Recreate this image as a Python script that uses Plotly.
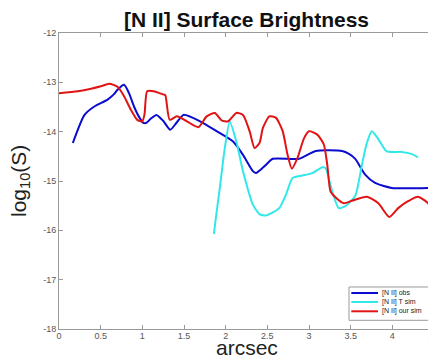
import plotly.graph_objects as go

# ---- data ----
obs_x = [0.166, 0.306, 0.424, 0.583, 0.66, 0.702, 0.781, 0.84, 0.900, 0.96, 1.011, 1.05, 1.10, 1.169, 1.25, 1.335, 1.41, 1.495, 1.692, 1.891, 2.089, 2.208, 2.327, 2.366, 2.42, 2.485, 2.565, 2.881, 3.080, 3.397, 3.48, 3.555, 3.674, 3.793, 3.992, 4.459]
obs_y = [-14.23, -13.66, -13.49, -13.35, -13.24, -13.15, -13.05, -13.22, -13.49, -13.70, -13.82, -13.82, -13.74, -13.66, -13.78, -13.96, -13.82, -13.66, -13.79, -13.99, -14.20, -14.47, -14.80, -14.84, -14.77, -14.67, -14.55, -14.55, -14.39, -14.39, -14.45, -14.55, -14.87, -15.04, -15.14, -15.14]

tsim_x = [1.859, 1.882, 1.93, 1.99, 2.049, 2.128, 2.208, 2.327, 2.406, 2.485, 2.643, 2.723, 2.803, 2.921, 3.040, 3.159, 3.199, 3.278, 3.357, 3.436, 3.555, 3.635, 3.694, 3.754, 3.832, 3.932, 4.111, 4.230, 4.308]
tsim_y = [-16.07, -15.75, -15.14, -14.33, -13.80, -14.20, -14.80, -15.48, -15.67, -15.70, -15.55, -15.28, -14.94, -14.89, -14.84, -14.72, -14.74, -15.21, -15.55, -15.51, -15.30, -14.67, -14.23, -13.99, -14.15, -14.40, -14.41, -14.45, -14.52]

our_x = [0.0, 0.226, 0.384, 0.503, 0.603, 0.702, 0.781, 0.860, 0.939, 0.999, 1.026, 1.058, 1.138, 1.257, 1.276, 1.328, 1.415, 1.534, 1.673, 1.772, 1.870, 1.950, 2.030, 2.128, 2.208, 2.287, 2.346, 2.406, 2.446, 2.524, 2.604, 2.684, 2.743, 2.794, 2.862, 2.941, 3.000, 3.100, 3.178, 3.219, 3.258, 3.317, 3.416, 3.516, 3.694, 3.832, 3.963, 4.070, 4.189, 4.308, 4.427, 4.5]
our_y = [-13.22, -13.18, -13.13, -13.08, -13.03, -13.09, -13.28, -13.55, -13.76, -13.79, -13.65, -13.18, -13.18, -13.25, -13.26, -13.76, -13.69, -13.79, -13.91, -13.69, -13.62, -13.77, -13.79, -13.62, -13.66, -13.99, -14.33, -14.23, -13.93, -13.69, -13.72, -13.99, -14.47, -14.75, -14.53, -14.13, -13.99, -14.06, -14.26, -14.67, -15.21, -15.33, -15.45, -15.40, -15.32, -15.45, -15.73, -15.55, -15.41, -15.32, -15.45, -15.70]

series_names = ["[N II] obs", "[N II] T sim", "[N II] our sim"]
series_colors = ["#0b0bd0", "#30e8ea", "#e01414"]

x_ticks = [0, 0.5, 1, 1.5, 2, 2.5, 3, 3.5, 4, 4.5]
y_ticks = [-18, -17, -16, -15, -14, -13, -12]

FONT = "Liberation Sans, Arial, Helvetica, sans-serif"
AXC = "#9a9a9a"
TICKFONT = dict(family=FONT, size=9, color="#555")

fig = go.Figure()
for xs, ys, name, col in zip([obs_x, tsim_x, our_x], [obs_y, tsim_y, our_y], series_names, series_colors):
    fig.add_trace(go.Scatter(x=xs, y=ys, mode="lines", name=name, showlegend=False,
                             line=dict(color=col, width=2, shape="spline", smoothing=0.6)))
# empty host trace so the label-only companion x axis gets drawn
fig.add_trace(go.Scatter(x=[], y=[], xaxis="x2", yaxis="y", showlegend=False, hoverinfo="skip"))

axis_common = dict(showline=True, linecolor=AXC, linewidth=1, mirror="ticks",
                   ticks="inside", ticklen=4, tickcolor=AXC, showgrid=False, zeroline=False,
                   ticklabeloverflow="allow", tickfont=TICKFONT)

# main x axis: frame + inside ticks; labels come from a companion axis
fig.update_xaxes(range=[0, 4.5], tickvals=x_ticks, showticklabels=False, **axis_common)
fig.update_yaxes(range=[-18, -12], tickvals=y_ticks, ticktext=[f"{v:g}" for v in y_ticks], **axis_common)

# axis titles
annotations = [
    dict(text="arcsec", xref="paper", yref="paper", x=0.5, y=-0.064, xanchor="center", yanchor="middle",
         showarrow=False, font=dict(family=FONT, size=21, color="#222")),
    dict(text="log<sub>10</sub>(S)", xref="paper", yref="paper", x=-0.104, y=0.5, xanchor="center",
         yanchor="middle", textangle=-90, showarrow=False, font=dict(family=FONT, size=21, color="#222")),
]

# legend box (drawn by hand to match the compact reference legend)
shapes = [dict(type="rect", xref="paper", yref="paper", x0=0.7733, x1=0.9885, y0=0.0294, y1=0.1419,
               fillcolor="white", line=dict(color=AXC, width=1), layer="above")]
row_y = [0.1216, 0.0912, 0.0598]
for name, col, ry in zip(series_names, series_colors, row_y):
    shapes.append(dict(type="line", xref="paper", yref="paper", x0=0.7795, x1=0.8507, y0=ry, y1=ry,
                       line=dict(color=col, width=2), layer="above"))
    annotations.append(dict(text=name, xref="paper", yref="paper", x=0.8573, y=ry, xanchor="left",
                            yanchor="middle", showarrow=False,
                            font=dict(family=FONT, size=7, color="#222")))

fig.update_layout(
    width=436, height=359,
    margin=dict(l=51, r=10, t=25, b=38, autoexpand=False),
    paper_bgcolor="white", plot_bgcolor="white",
    title=dict(text="<b>[N II] Surface Brightness</b>", font=dict(family=FONT, size=21, color="#111"),
               x=0.5, xref="paper", xanchor="center", y=1 - 12 / 359, yref="container", yanchor="middle"),
    xaxis2=dict(overlaying="x", anchor="free", position=0.0, side="bottom", range=[0, 4.5],
                tickvals=x_ticks, ticktext=[f"{v:g}" for v in x_ticks], ticks="", showline=False,
                showgrid=False, zeroline=False, ticklabeloverflow="allow", tickfont=TICKFONT),
    showlegend=False,
    shapes=shapes,
    annotations=annotations,
)

fig.write_html("out.html")
